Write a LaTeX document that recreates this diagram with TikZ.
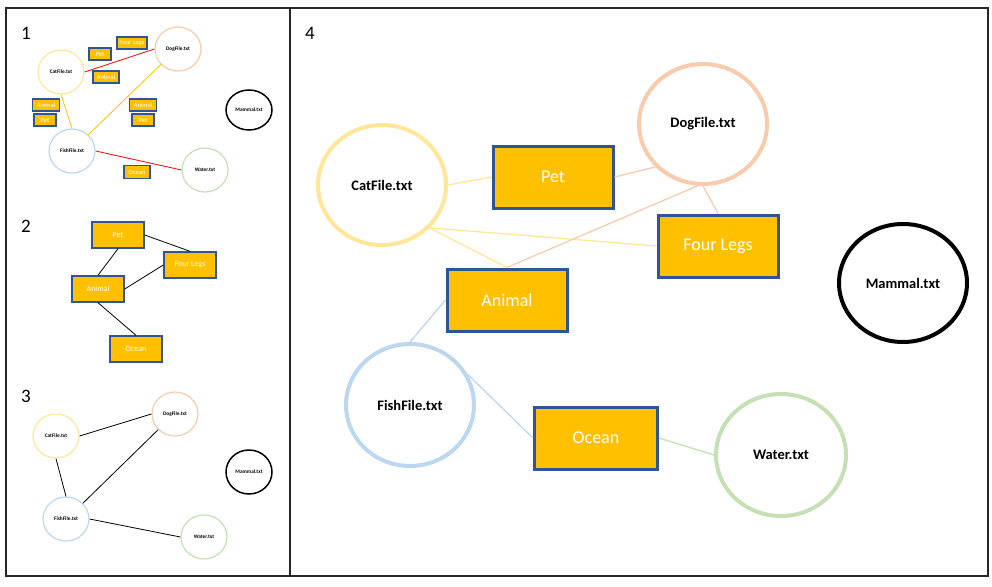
\documentclass[tikz,border=0pt]{standalone}
\usepackage{fontspec}
\setmainfont{Carlito}
\usetikzlibrary{shapes.geometric}
\definecolor{catyellow}{HTML}{FFE699}
\definecolor{dogpeach}{HTML}{F8CBAD}
\definecolor{fishblue}{HTML}{BDD7EE}
\definecolor{watergreen}{HTML}{C5E0B4}
\definecolor{taggold}{HTML}{FFC000}
\definecolor{tagblue}{HTML}{2F5597}
\definecolor{framegray}{HTML}{262626}
\tikzset{file/.style={ellipse, draw, fill=white, inner sep=0pt, font=\bfseries},
         tag/.style={rectangle, draw=tagblue, fill=taggold, text=white, inner sep=0pt},
         tiny file/.style={file, line width=1.2pt, minimum width=46pt, minimum height=44pt, font=\bfseries\fontsize{5.3}{6}\selectfont},
         tiny tag/.style={tag, line width=1.1pt, minimum height=12pt, font=\fontsize{6.5}{7}\selectfont},
         small tag/.style={tag, line width=1.4pt, minimum width=52pt, minimum height=26pt, font=\fontsize{8}{9}\selectfont},
         big file/.style={file, line width=4pt, minimum width=128pt, minimum height=120pt, font=\bfseries\fontsize{14.5}{16}\selectfont},
         big tag/.style={tag, line width=3pt, minimum width=120pt, minimum height=62pt, font=\fontsize{18}{20}\selectfont},
         link/.style={line width=0.8pt},
         panel number/.style={font=\fontsize{19}{20}\selectfont}}

\begin{document}
\begin{tikzpicture}[x=1pt, y=-1pt] % one unit is one pixel of the sketch, y runs down
\useasboundingbox (0,0) rectangle (992,586);
% the frame and the line between the small panels and panel 4
\draw[framegray, line width=1.8pt] (6,8) rectangle (988,576);
\draw[framegray, line width=1.8pt] (290,8) -- (290,576);
\node[panel number] (n1) at (26,33) {1};
\node[panel number] (n2) at (26,226) {2};
\node[panel number] (n3) at (26,396) {3};
\node[panel number] (n4) at (310,33) {4};

% panel 1: files with their loose tags
\node[tiny file, draw=catyellow]  (cat1)   at (61,72)   {CatFile.txt};
\node[tiny file, draw=dogpeach]   (dog1)   at (178,49)  {DogFile.txt};
\node[tiny file, draw=black, line width=1.5pt, minimum height=40pt] (mam1) at (249,110) {Mammal.txt};
\node[tiny file, draw=fishblue]   (fish1)  at (72,151)  {FishFile.txt};
\node[tiny file, draw=watergreen] (water1) at (205,170) {Water.txt};
\node[tiny tag, minimum width=22pt] (pet1a)   at (100,54)  {Pet};
\node[tiny tag, minimum width=30pt] (four1)   at (132,43)  {Four Legs};
\node[tiny tag, minimum width=26pt] (animal1a) at (106,77) {Animal};
\node[tiny tag, minimum width=27pt] (animal1b) at (46,105) {Animal};
\node[tiny tag, minimum width=22pt] (pet1b)   at (45,120)  {Pet};
\node[tiny tag, minimum width=27pt] (animal1c) at (143,105) {Animal};
\node[tiny tag, minimum width=22pt] (pet1c)   at (143,120) {Pet};
\node[tiny tag, minimum width=26pt, minimum height=13pt] (ocean1) at (137,172) {Ocean};
\draw[link, red] (cat1.east) -- (dog1.west);
\draw[link, taggold] (cat1.south) -- (fish1.north);
\draw[link, taggold] (dog1.222) -- (fish1.45);
\draw[link, red] (fish1.east) -- (water1.west);

% panel 2: the tags on their own
\node[small tag] (pet2)    at (118,235) {Pet};
\node[small tag] (four2)   at (190,265) {Four Legs};
\node[small tag] (animal2) at (98,289)  {Animal};
\node[small tag] (ocean2)  at (136,349) {Ocean};
\draw[link] (pet2.east) -- (four2.north);
\draw[link] (pet2.south) -- (animal2.north);
\draw[link] (four2.west) -- (animal2.east);
\draw[link] (animal2.south) -- (ocean2.north);

% panel 3: the files on their own
\node[tiny file, draw=catyellow]  (cat3)   at (56,436)  {CatFile.txt};
\node[tiny file, draw=dogpeach]   (dog3)   at (175,414) {DogFile.txt};
\node[tiny file, draw=black, line width=1.5pt] (mam3) at (249,472) {Mammal.txt};
\node[tiny file, draw=fishblue]   (fish3)  at (66,519)  {FishFile.txt};
\node[tiny file, draw=watergreen] (water3) at (204,537) {Water.txt};
\draw[link] (cat3.east) -- (dog3.west);
\draw[link] (cat3.south) -- (fish3.north);
\draw[link] (dog3.223) -- (fish3.43);
\draw[link] (fish3.east) -- (water3.west);

% panel 4: files linked through the tags
\node[big file, draw=catyellow]  (cat4)   at (382,185) {CatFile.txt};
\node[big file, draw=dogpeach]   (dog4)   at (703,124) {DogFile.txt};
\node[big file, draw=black, minimum height=118pt] (mam4) at (903,283) {Mammal.txt};
\node[big file, draw=fishblue, minimum height=122pt] (fish4) at (410,405) {FishFile.txt};
\node[big file, draw=watergreen, minimum width=130pt, minimum height=122pt] (water4) at (781,455) {Water.txt};
\node[big tag] (pet4)    at (553,177) {Pet};
\node[big tag] (four4)   at (718,246) {Four Legs};
\node[big tag] (animal4) at (507,300) {Animal};
\node[big tag, minimum width=123pt] (ocean4) at (596,438) {Ocean};
\draw[link, line width=1.3pt, catyellow] (cat4.east) -- (pet4.west);
\draw[link, line width=1.3pt, catyellow] (cat4.-42) -- (four4.west);
\draw[link, line width=1.3pt, catyellow] (cat4.-42) -- (animal4.north);
\draw[link, line width=1.3pt, dogpeach] (pet4.east) -- (dog4.222);
\draw[link, line width=1.3pt, dogpeach] (dog4.south) -- (four4.north);
\draw[link, line width=1.3pt, dogpeach] (dog4.265) -- (animal4.north);
\draw[link, line width=1.3pt, fishblue] (animal4.west) -- (fish4.north);
\draw[link, line width=1.3pt, fishblue] (fish4.28) -- (ocean4.west);
\draw[link, line width=1.3pt, watergreen] (ocean4.east) -- (water4.west);
\end{tikzpicture}
\end{document}
